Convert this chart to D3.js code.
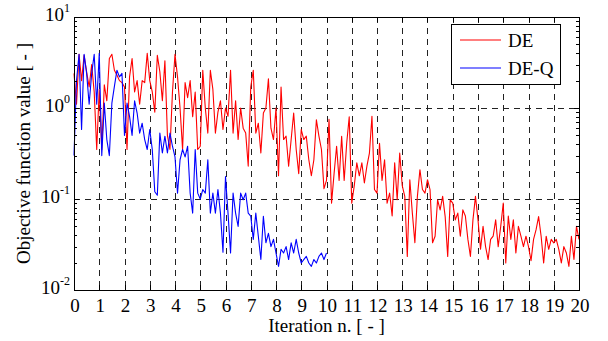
<!DOCTYPE html>
<html lang="en">
<head>
    <meta charset="utf-8">
    <title>Objective function</title>
    <style>
        body { margin: 0; background: #fff; }
        text { font-family: "Liberation Serif", "Times New Roman", serif; fill: #000; }
    </style>
</head>
<body>
    <svg width="608" height="341"></svg>
    <script src="https://cdn.jsdelivr.net/npm/d3@7"></script>
    <script>
        // sampled every 0.1 iteration units
        const step = 0.1;

        const deValues = [
            2.4, 1.1, 3.9, 2.0, 3.8, 2.5, 1.7, 3.0, 1.5, 0.35,
            1.6, 0.35, 1.8, 1.2, 3.5, 3.9, 2.6, 2.3, 2.0, 1.9,
            1.7, 0.35, 2.2, 3.5, 1.5, 2.0, 1.1, 2.0, 1.9, 4.0,
            2.0, 1.5, 0.9, 3.8, 2.5, 1.2, 3.3, 0.5, 0.35, 1.5,
            3.9, 2.2, 1.0, 0.35, 1.9, 1.3, 2.0, 0.8, 1.5, 0.35,
            0.38, 2.6, 1.0, 0.53, 2.6, 1.6, 0.53, 0.9, 1.2, 0.58,
            1.0, 0.81, 2.6, 0.53, 1.2, 0.45, 1.0, 0.6, 0.53, 0.23,
            1.7, 2.6, 0.53, 0.68, 0.32, 0.88, 1.0, 2.1, 0.6, 0.45,
            1.0, 0.18, 1.7, 0.45, 0.49, 0.23, 0.45, 0.88, 0.35, 0.19,
            0.58, 0.45, 0.49, 0.27, 0.18, 0.27, 0.74, 0.49, 0.35, 0.13,
            0.16, 0.75, 0.09, 0.19, 0.38, 0.16, 0.49, 0.16, 0.41, 0.8,
            0.09, 0.14, 0.25, 0.18, 0.25, 0.15, 0.23, 0.32, 0.81, 0.127,
            0.116, 0.41, 0.16, 0.27, 0.09, 0.116, 0.065, 0.25, 0.098, 0.32,
            0.14, 0.107, 0.0234, 0.163, 0.07, 0.033, 0.107, 0.21, 0.127, 0.116,
            0.163, 0.127, 0.033, 0.039, 0.098, 0.076, 0.107, 0.064, 0.0234, 0.098,
            0.09, 0.059, 0.07, 0.039, 0.076, 0.065, 0.036, 0.0234, 0.059, 0.107,
            0.059, 0.028, 0.05, 0.03, 0.0216, 0.036, 0.039, 0.059, 0.03, 0.05,
            0.09, 0.0198, 0.065, 0.036, 0.059, 0.0255, 0.05, 0.039, 0.03, 0.039,
            0.03, 0.021, 0.036, 0.046, 0.064, 0.039, 0.0198, 0.039, 0.028, 0.036,
            0.033, 0.036, 0.028, 0.0198, 0.03, 0.0255, 0.0182, 0.039, 0.0216, 0.05,
            0.036
        ];

        const deqValues = [
            0.3, 2.0, 3.9, 0.58, 3.9, 2.4, 1.1, 2.4, 3.9, 1.1,
            4.0, 0.3, 1.13, 0.45, 0.3, 1.13, 1.73, 2.6, 2.2, 2.4,
            0.5, 1.13, 0.81, 0.5, 1.2, 0.88, 0.53, 0.68, 0.45, 0.35,
            0.58, 0.35, 0.12, 0.11, 0.53, 0.32, 0.49, 0.32, 0.53, 0.38,
            0.29, 0.116, 0.27, 0.35, 0.29, 0.38, 0.116, 0.07, 0.35, 0.116,
            0.1, 0.127, 0.116, 0.27, 0.07, 0.116, 0.07, 0.127, 0.07, 0.026,
            0.177, 0.07, 0.0255, 0.116, 0.07, 0.05, 0.116, 0.098, 0.116, 0.07,
            0.065, 0.036, 0.07, 0.039, 0.0216, 0.0645, 0.033, 0.042, 0.03, 0.036,
            0.0255, 0.0182, 0.028, 0.0255, 0.03, 0.0216, 0.033, 0.0255, 0.036, 0.0255,
            0.0198, 0.0216, 0.0234, 0.0198, 0.0182, 0.0216, 0.0198, 0.0234, 0.0255, 0.0216,
            0.0255
        ];

        const xTicks = d3.range(0, 21);
        const yDecades = [0.01, 0.1, 1, 10];
        const yExponents = ["-2", "-1", "0", "1"];
        const seriesNames = ["DE", "DE-Q"];
        const seriesColors = ["#ff0000", "#0000ff"];

        const svg = d3.select("svg");
        const plot = { left: 74, right: 579, top: 17, bottom: 290 };

        const x = d3.scaleLinear().domain([0, 20]).range([plot.left, plot.right]);
        const y = d3.scaleLog().domain([0.01, 10]).range([plot.bottom, plot.top]);

        // dashed grid
        const grid = svg.append("g")
            .attr("stroke", "#222")
            .attr("stroke-width", 1)
            .attr("stroke-dasharray", "6,5");
        grid.selectAll("line.gx").data(xTicks.slice(1, -1)).join("line")
            .attr("x1", d => Math.round(x(d)) + 0.5).attr("x2", d => Math.round(x(d)) + 0.5)
            .attr("y1", plot.top).attr("y2", plot.bottom);
        grid.selectAll("line.gy").data(yDecades.slice(1, -1)).join("line")
            .attr("x1", plot.left).attr("x2", plot.right)
            .attr("y1", d => Math.round(y(d)) + 0.5).attr("y2", d => Math.round(y(d)) + 0.5);

        const line = d3.line()
            .x((d, i) => x(i * step))
            .y(d => y(d));

        [deValues, deqValues].forEach((vals, k) => {
            svg.append("path")
                .datum(vals)
                .attr("fill", "none")
                .attr("stroke", seriesColors[k])
                .attr("stroke-width", 1.1)
                .attr("stroke-linejoin", "round")
                .attr("d", line);
        });

        // frame and ticks
        const axes = svg.append("g").attr("stroke", "#000").attr("stroke-width", 1);
        axes.append("rect")
            .attr("x", plot.left + 0.5).attr("y", plot.top + 0.5)
            .attr("width", plot.right - plot.left).attr("height", plot.bottom - plot.top)
            .attr("fill", "none");

        xTicks.forEach(t => {
            const px = Math.round(x(t)) + 0.5;
            axes.append("line").attr("x1", px).attr("x2", px).attr("y1", plot.bottom).attr("y2", plot.bottom - 5);
            axes.append("line").attr("x1", px).attr("x2", px).attr("y1", plot.top).attr("y2", plot.top + 5);
        });

        const minor = [];
        yDecades.slice(0, -1).forEach(d => {
            for (let m = 2; m <= 9; m++) minor.push(d * m);
        });
        minor.forEach(v => {
            const py = Math.round(y(v)) + 0.5;
            axes.append("line").attr("x1", plot.left).attr("x2", plot.left + 3).attr("y1", py).attr("y2", py);
            axes.append("line").attr("x1", plot.right).attr("x2", plot.right - 3).attr("y1", py).attr("y2", py);
        });
        yDecades.forEach(v => {
            const py = Math.round(y(v)) + 0.5;
            axes.append("line").attr("x1", plot.left).attr("x2", plot.left + 5).attr("y1", py).attr("y2", py);
            axes.append("line").attr("x1", plot.right).attr("x2", plot.right - 5).attr("y1", py).attr("y2", py);
        });

        // tick labels
        svg.append("g").selectAll("text").data(xTicks).join("text")
            .attr("x", d => x(d) + 1)
            .attr("y", plot.bottom + 22)
            .attr("text-anchor", "middle")
            .attr("font-size", 19)
            .text(d => d);

        const yl = svg.append("g").selectAll("text").data(yDecades).join("text")
            .attr("x", 70)
            .attr("y", d => y(d) + 4)
            .attr("text-anchor", "end")
            .attr("font-size", 19);
        yl.append("tspan").text("10");
        yl.append("tspan")
            .attr("dy", -9)
            .attr("font-size", 12)
            .text((d, i) => yExponents[i]);

        // axis titles
        svg.append("text")
            .attr("x", (plot.left + plot.right) / 2)
            .attr("y", 332)
            .attr("text-anchor", "middle")
            .attr("font-size", 19)
            .text("Iteration n. [ - ]");

        svg.append("text")
            .attr("transform", `translate(30,${(plot.top + plot.bottom) / 2}) rotate(-90)`)
            .attr("text-anchor", "middle")
            .attr("font-size", 19)
            .text("Objective function value [ - ]");

        // legend
        const lg = svg.append("g");
        lg.append("rect")
            .attr("x", 451.5).attr("y", 24.5)
            .attr("width", 109).attr("height", 60)
            .attr("fill", "#fff").attr("stroke", "#000");
        seriesNames.forEach((name, i) => {
            const ly = 40 + i * 28;
            lg.append("line")
                .attr("x1", 460).attr("x2", 501)
                .attr("y1", ly).attr("y2", ly)
                .attr("stroke", seriesColors[i]).attr("stroke-width", 1.1);
            lg.append("text")
                .attr("x", 508).attr("y", ly + 7)
                .attr("font-size", 19)
                .text(name);
        });
    </script>
</body>
</html>
